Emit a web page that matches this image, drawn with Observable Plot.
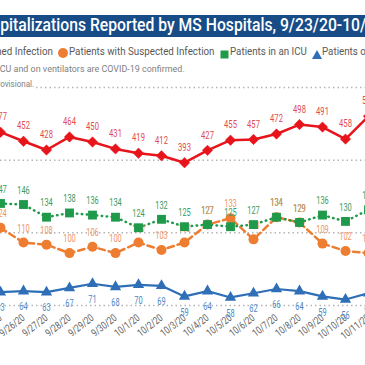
<!DOCTYPE html>
<html><head><meta charset="utf-8">
<script src="https://cdn.jsdelivr.net/npm/d3@7"></script>
<script src="https://cdn.jsdelivr.net/npm/@observablehq/plot@0.6"></script>
<style>
html,body{margin:0;padding:0;background:#fff}
#wrap{position:relative;width:365px;height:365px;overflow:hidden;background:#fff;font-family:Roboto,"Noto Sans",sans-serif}
.abs{position:absolute;white-space:nowrap;line-height:1}
.plot{position:absolute;left:0;top:0}
</style></head><body>
<div id="wrap">
  <div id="p1" class="plot"></div>
  <div id="p2" class="plot"></div>
  <div id="bar" class="abs" style="left:0;top:15px;width:365px;height:22px;background:#174c86;overflow:hidden">
    <span id="title" class="abs" style="top:1px;left:0;color:#fff;font-size:18px;font-weight:500;transform-origin:0 0"><span id="tpre">Hos</span><span id="tvis">pitalizations Reported by MS Hospitals, 9/23/20-10/</span></span>
  </div>
  <span id="note1" class="abs" style="top:63.5px;left:0;font-size:9.5px;color:#7f7f7f;transform-origin:0 0"><span id="n1pre">Patients in I</span><span id="n1vis">CU and on ventilators are COVID-19 confirmed.</span></span>
  <span id="note2" class="abs" style="top:79px;left:0;font-size:9.5px;color:#7f7f7f;background:#fff;padding-right:1px;transform-origin:0 0"><span id="n2pre">pr</span><span id="n2vis">ovisional.</span></span>
</div>
<script>
// ---- data ----
const dates = ["9/25/20","9/26/20","9/27/20","9/28/20","9/29/20","9/30/20","10/1/20","10/2/20","10/3/20","10/4/20","10/5/20","10/6/20","10/7/20","10/8/20","10/9/20","10/10/20","10/11/20"];
const confirmed = [477,452,428,464,450,431,419,412,393,427,455,457,472,498,491,458,521];
const suspected = [124,110,108,100,106,100,110,103,110,127,133,113,134,129,109,102,100];
const icu       = [147,146,134,138,136,134,124,132,125,127,125,127,134,129,136,130,141];
const vent      = [63,64,63,67,71,68,70,69,59,64,58,62,66,64,59,56,62];
const gridTicks = [0,200,400,600];
const legendLabels = ["Patients with Confirmed Infection","Patients with Suspected Infection","Patients in an ICU","Patients on Ventilators"];

const rows = dates.map((d,i)=>({date:d, confirmed:confirmed[i], suspected:suspected[i], icu:icu[i], vent:vent[i]}));

const RED="#e8141c", ORANGE="#ed7d31", GREEN="#1f9a4b", BLUE="#2e6fb7";
const xOpt = {type:"point", domain:dates, range:[-2.5,370], padding:0, axis:null};
const style = {background:"transparent", overflow:"hidden"};
const lbl = {fontSize:10, fontFamily:"Roboto, sans-serif"};

const p1 = Plot.plot({
  width:365, height:365, marginTop:0, marginLeft:0, marginRight:0, marginBottom:52, style,
  x:xOpt,
  y:{domain:[0,600], range:[305,87], axis:null},
  marks:[
    Plot.ruleY(gridTicks, {y:d=>d, stroke:"#b5b5b5", strokeOpacity:1, strokeWidth:1.5, strokeDasharray:"1.5,3"}),
    Plot.text(dates, {x:d=>d, frameAnchor:"bottom", dy:3, rotate:-38, textAnchor:"end", lineAnchor:"middle", fill:"#5f5f5f", fontSize:10.5, fontFamily:"Roboto, sans-serif"}),
    Plot.line(rows, {x:"date", y:"confirmed", stroke:RED, strokeWidth:2.5}),
    Plot.dot(rows, {x:"date", y:"confirmed", symbol:"diamond2", r:4.7, fill:RED, stroke:RED, strokeWidth:0.5}),
    Plot.text(rows, {x:"date", y:"confirmed", text:d=>d.confirmed, dy:-15, fill:"#e04a50", ...lbl})
  ]
});
const p2 = Plot.plot({
  width:365, height:365, margin:0, style,
  x:xOpt,
  y:{domain:[0,200], range:[358.2,147], axis:null},
  marks:[
    Plot.line(rows, {x:"date", y:"suspected", stroke:ORANGE, strokeWidth:2.5, strokeDasharray:"6.5,4"}),
    Plot.dot(rows, {x:"date", y:"suspected", symbol:"circle", r:5, fill:ORANGE}),
    Plot.line(rows, {x:"date", y:"icu", stroke:GREEN, strokeWidth:2.5, strokeDasharray:"0.5,4.5", strokeLinecap:"round"}),
    Plot.text(rows, {x:"date", y:"icu", text:d=>d.icu, dy:-14, fill:"#3c9a5e", ...lbl}),
    Plot.text(rows, {x:"date", y:"suspected", text:d=>d.suspected, dy:-14, fill:"#ee9566", ...lbl}),
    Plot.dot(rows, {x:"date", y:"icu", symbol:"square", r:5, fill:GREEN}),
    Plot.line(rows, {x:"date", y:"vent", stroke:BLUE, strokeWidth:2.2}),
    Plot.dot(rows, {x:"date", y:"vent", symbol:"triangle", r:4.2, fill:BLUE}),
    Plot.text(rows, {x:"date", y:"vent", text:d=>d.vent, dy:16, fill:"#4d87c4", ...lbl})
  ]
});
document.getElementById("p1").appendChild(p1);
document.getElementById("p2").appendChild(p2);

// condense text glyphs horizontally around their anchor point
function condense(svg, k){
  svg.querySelectorAll("text").forEach(t=>{
    const tr = t.getAttribute("transform");
    if (tr) t.setAttribute("transform", `${tr} scale(${k},1)`);
  });
}
condense(p1, 0.76);
condense(p2, 0.74);

// ---- title / notes fit ----
function fitSpan(outer, pre, vis, targetW, leftX){
  const wv = vis.getBoundingClientRect().width;
  const wp = pre.getBoundingClientRect().width;
  const k = targetW / wv;
  outer.style.transform = `scaleX(${k})`;
  outer.style.left = (leftX - wp*k) + "px";
  return k;
}
fitSpan(document.getElementById("title"), document.getElementById("tpre"), document.getElementById("tvis"), 366, 0);
fitSpan(document.getElementById("note1"), document.getElementById("n1pre"), document.getElementById("n1vis"), 185, 0);
fitSpan(document.getElementById("note2"), document.getElementById("n2pre"), document.getElementById("n2vis"), 34, 0);

// ---- legend ----
const wrap = document.getElementById("wrap");
const markers = [
  `<svg width="10" height="10"><path d="M5 0L10 5L5 10L0 5Z" fill="${RED}"/></svg>`,
  `<svg width="10" height="10"><circle cx="5" cy="5" r="5" fill="${ORANGE}"/></svg>`,
  `<svg width="9" height="9"><rect x="0.5" y="0.5" width="8" height="8" fill="${GREEN}"/></svg>`,
  `<svg width="10" height="9"><path d="M5 0L10 9L0 9Z" fill="${BLUE}"/></svg>`
];
const mk = [null, 58, 220, 311.5];
const mkTop = [45, 45, 46, 45.5];
const txtLeft = [null, 68.5, 230, 322];
const spans = legendLabels.map(s=>{
  const e = document.createElement("span");
  e.className="abs"; e.textContent=s;
  e.style.cssText += "font-size:11px;color:#595959;top:45.5px;transform-origin:0 0";
  wrap.appendChild(e); return e;
});
const k = 145.5 / spans[1].getBoundingClientRect().width;
spans.forEach((e,i)=>{
  const w = e.getBoundingClientRect().width;
  e.style.transform = `scaleX(${k})`;
  e.style.left = (i===0 ? 53 - w*k : txtLeft[i]) + "px";
});
markers.forEach((m,i)=>{
  const d = document.createElement("div");
  d.className="abs"; d.innerHTML=m;
  const left = i===0 ? parseFloat(spans[0].style.left) - 12 : mk[i];
  d.style.left = left+"px"; d.style.top = mkTop[i]+"px";
  wrap.appendChild(d);
});
</script>
</body></html>
